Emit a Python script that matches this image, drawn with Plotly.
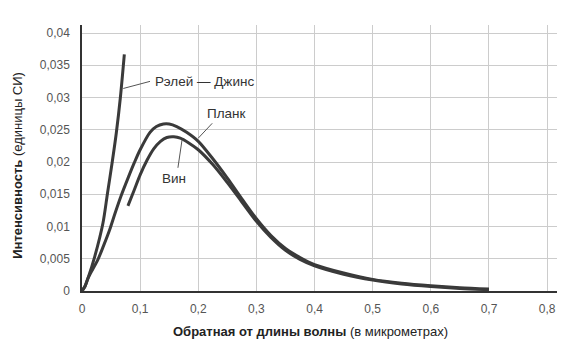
import plotly.graph_objects as go

# Data
rj_x = [0, 0.005, 0.010, 0.0218, 0.036, 0.0436, 0.052, 0.059, 0.066, 0.0728]
rj_y = [0, 0.0007, 0.0019, 0.0053, 0.0105, 0.0150, 0.0200, 0.0245, 0.0300, 0.0367]

planck_x = [0, 0.005, 0.010, 0.018, 0.0275, 0.037, 0.0476, 0.057, 0.067, 0.080, 0.090, 0.100,
            0.117, 0.128, 0.140, 0.150, 0.163, 0.180, 0.200, 0.225, 0.250, 0.275, 0.300, 0.325,
            0.350, 0.375, 0.400, 0.450, 0.500, 0.550, 0.600, 0.650, 0.700]
planck_y = [0, 0.0007, 0.0019, 0.0033, 0.0049, 0.0070, 0.0095, 0.0121, 0.0147, 0.0177, 0.0199, 0.0219,
            0.0246, 0.0255, 0.0259, 0.0259, 0.0255, 0.0246, 0.0232, 0.0205, 0.0175, 0.0143, 0.0112, 0.0086,
            0.0066, 0.0052, 0.0041, 0.0028, 0.0018, 0.0012, 0.0008, 0.0005, 0.0003]

wien_x = [0.079, 0.090, 0.100, 0.112, 0.123, 0.135, 0.146, 0.158, 0.169, 0.183, 0.200, 0.225,
          0.250, 0.275, 0.300, 0.325, 0.350, 0.375, 0.400, 0.450, 0.500, 0.550, 0.600, 0.650, 0.700]
wien_y = [0.0132, 0.0157, 0.0180, 0.0203, 0.0220, 0.0232, 0.0238, 0.0239, 0.0237, 0.0230, 0.0219, 0.0196,
          0.0168, 0.0138, 0.0108, 0.0083, 0.0063, 0.0049, 0.0039, 0.0026, 0.0017, 0.0011, 0.0007, 0.0004, 0.0002]

x_ticks = [0, 0.1, 0.2, 0.3, 0.4, 0.5, 0.6, 0.7, 0.8]
x_labels = ["0", "0,1", "0,2", "0,3", "0,4", "0,5", "0,6", "0,7", "0,8"]
y_ticks = [0, 0.005, 0.01, 0.015, 0.02, 0.025, 0.03, 0.035, 0.04]
y_labels = ["0", "0,005", "0,01", "0,015", "0,02", "0,025", "0,03", "0,035", "0,04"]

line_color = "#3a3a3a"
font = "Liberation Sans, Arial, sans-serif"

fig = go.Figure()
for xs, ys, nm in [(rj_x, rj_y, "Рэлей — Джинс"), (planck_x, planck_y, "Планк"), (wien_x, wien_y, "Вин")]:
    fig.add_trace(go.Scatter(x=xs, y=ys, mode="lines",
                             line=dict(color=line_color, width=3, shape="spline", smoothing=0.8),
                             name=nm, hoverinfo="skip"))

# Leader lines
leaders = [
    (0.071, 0.0314, 0.117, 0.0325),
    (0.200, 0.0237, 0.224, 0.0260),
    (0.165, 0.0191, 0.172, 0.0234),
]
for x0, y0, x1, y1 in leaders:
    fig.add_shape(type="line", x0=x0, y0=y0, x1=x1, y1=y1, line=dict(color="#555555", width=1))

lab_font = dict(family=font, size=13.5, color="#333333")
fig.add_annotation(x=0.1215, y=0.0325, text="Рэлей — Джинс", showarrow=False, xanchor="left",
                   yanchor="middle", font=lab_font)
fig.add_annotation(x=0.2115, y=0.0275, text="Планк", showarrow=False, xanchor="left",
                   yanchor="middle", font=lab_font)
fig.add_annotation(x=0.158, y=0.0174, text="Вин", showarrow=False, xanchor="center",
                   yanchor="middle", font=lab_font)

# Axis titles
fig.add_annotation(xref="paper", yref="paper", x=0.481, y=-0.154, xanchor="center", yanchor="middle",
                   text="<b>Обратная от длины волны</b> (в микрометрах)", showarrow=False,
                   font=dict(family=font, size=13, color="#222222"))
fig.add_annotation(xref="paper", yref="paper", x=-0.135, y=0.474, xanchor="center", yanchor="middle",
                   textangle=-90,
                   text="<b>Интенсивность</b> (единицы СИ)", showarrow=False,
                   font=dict(family=font, size=13, color="#222222"))

fig.update_layout(
    width=568, height=355,
    margin=dict(l=74, r=19, t=17, b=72),
    plot_bgcolor="white", paper_bgcolor="white",
    showlegend=False,
    font=dict(family=font, size=12, color="#555555"),
)
fig.update_xaxes(range=[0, 0.817], tickvals=x_ticks, ticktext=x_labels, showgrid=True,
                 gridcolor="#cccccc", gridwidth=1, zeroline=False, showline=True,
                 linecolor="#333333", linewidth=1.5, ticks="", ticklabelstandoff=6)
fig.update_yaxes(range=[0, 0.04124], tickvals=y_ticks, ticktext=y_labels, showgrid=True,
                 gridcolor="#cccccc", gridwidth=1, zeroline=False, showline=True,
                 linecolor="#333333", linewidth=1.5, ticks="", ticklabelstandoff=8)

fig.write_html("out.html")
